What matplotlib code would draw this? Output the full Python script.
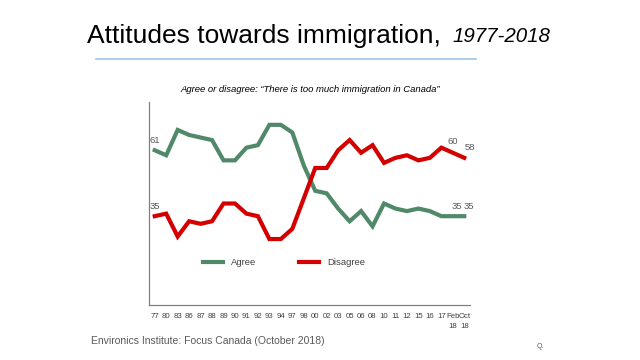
import matplotlib
matplotlib.use("Agg")
import matplotlib.pyplot as plt

# ---- Focus Canada: "There is too much immigration in Canada" (%) ----
YEARS = ["77", "80", "83", "86", "87", "88", "89", "90", "91", "92", "93", "94", "97", "98",
         "00", "02", "03", "05", "06", "08", "10", "11", "12", "15", "16", "17", "Feb\n18", "Oct\n18"]
AGREE = [61, 59, 69, 67, 66, 65, 57, 57, 62, 63, 71, 71, 68, 55,
         45, 44, 38, 33, 37, 31, 40, 38, 37, 38, 37, 35, 35, 35]
DISAGREE = [35, 36, 27, 33, 32, 33, 40, 40, 36, 35, 26, 26, 30, 42,
            54, 54, 61, 65, 60, 63, 56, 58, 59, 57, 58, 62, 60, 58]

GREEN = "#4f896a"
RED = "#d40000"
GRAY = "#595959"

plt.rcParams["font.family"] = ["Liberation Sans", "DejaVu Sans"]

fig = plt.figure(figsize=(6.4, 3.6), dpi=100)
fig.patch.set_facecolor("white")

# title + rule
fig.text(87 / 640, 0.90, "Attitudes towards immigration,", ha="left", va="center",
         fontsize=19, color="black")
fig.text(452 / 640, 0.90, "1977-2018", ha="left", va="center", fontsize=14.8,
         style="italic", color="black")
fig.add_artist(plt.Line2D([96 / 640, 476 / 640], [1 - 59 / 360] * 2,
                          color="#9dc3e6", lw=1.2, transform=fig.transFigure))
fig.text(310 / 640, 1 - 90 / 360,
         "Agree or disagree: \u201cThere is too much immigration in Canada\u201d",
         ha="center", va="center", fontsize=6.8, style="italic", color="black")

ax = fig.add_axes([149 / 640, 55 / 360, 321 / 640, 203 / 360])
x = list(range(len(YEARS)))
ax.plot(x, AGREE, color=GREEN, lw=3, label="Agree", solid_joinstyle="miter")
ax.plot(x, DISAGREE, color=RED, lw=3, label="Disagree", solid_joinstyle="miter")

ax.set_xlim(-0.5, len(YEARS) - 0.5)
ax.set_ylim(0, 80)
ax.set_xticks(x)
ax.set_xticklabels(YEARS, fontsize=5.6, color="#404040", linespacing=1.6, va="top")
ax.tick_params(axis="x", length=0, pad=6)
ax.set_yticks([])
for s in ["top", "right"]:
    ax.spines[s].set_visible(False)
for s in ["left", "bottom"]:
    ax.spines[s].set_color("#808080")
    ax.spines[s].set_linewidth(0.9)

# data labels
lab = dict(fontsize=6.8, color=GRAY)
ax.annotate(str(AGREE[0]), (0, AGREE[0]), xytext=(0, 4), textcoords="offset points",
            ha="center", va="bottom", **lab)
ax.annotate(str(DISAGREE[0]), (0, DISAGREE[0]), xytext=(0, 4), textcoords="offset points",
            ha="center", va="bottom", **lab)
for i in (26, 27):
    ax.annotate(str(AGREE[i]), (i, AGREE[i]), xytext=(3, 4), textcoords="offset points",
                ha="center", va="bottom", **lab)
ax.annotate(str(DISAGREE[26]), (26, DISAGREE[26]), xytext=(0, 5), textcoords="offset points",
            ha="center", va="bottom", **lab)
ax.annotate(str(DISAGREE[27]), (27, DISAGREE[27]), xytext=(4, 4), textcoords="offset points",
            ha="center", va="bottom", **lab)

ax.legend(loc="center", bbox_to_anchor=(0.42, 0.21), ncol=2, frameon=False,
          fontsize=6.8, handlelength=2.2, columnspacing=4.5, handletextpad=0.8,
          labelcolor="#404040")

fig.text(91 / 640, 1 - 341 / 360, "Environics Institute: Focus Canada (October 2018)",
         ha="left", va="center", fontsize=7.5, color=GRAY)
fig.text(540 / 640, 1 - 347 / 360, "Q.", ha="center", va="center", fontsize=5, color=GRAY)

fig.savefig("out.png", dpi=100)
